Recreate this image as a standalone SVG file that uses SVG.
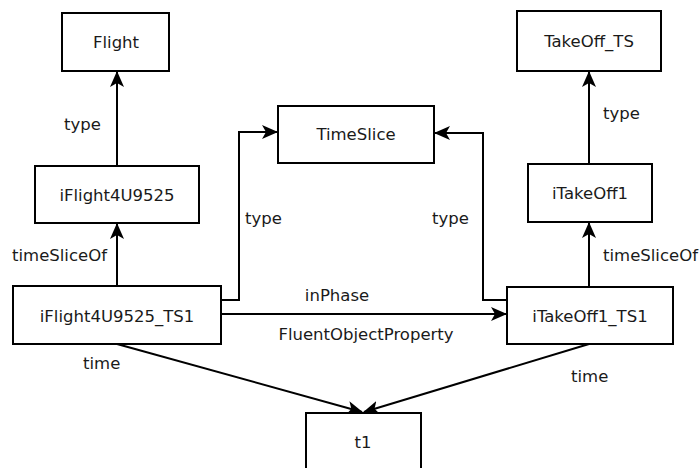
<svg xmlns="http://www.w3.org/2000/svg" width="700" height="468" viewBox="0 0 700 468">
<style>
.box{fill:#fff;stroke:#000;stroke-width:2}
.t{font-family:"DejaVu Sans",sans-serif;font-size:16.5px;fill:#1a1a1a}
.c{text-anchor:middle}
.e{fill:none;stroke:#000;stroke-width:2}
</style>
<defs>
<marker id="a" viewBox="0 0 16 16" refX="15" refY="8" markerWidth="16" markerHeight="16" markerUnits="userSpaceOnUse" orient="auto">
<path d="M0,1 L16,8 L0,15 L4,8 Z" fill="#000"/>
</marker>
</defs>
<rect width="700" height="468" fill="#fff"/>
<g id="connectors">
<path class="e" d="M117,286 V224" marker-end="url(#a)"/>
<path class="e" d="M117,166 V72" marker-end="url(#a)"/>
<path class="e" d="M589,287 V223" marker-end="url(#a)"/>
<path class="e" d="M589,164 V72" marker-end="url(#a)"/>
<path class="e" d="M221,300 H239 V132 H277" marker-end="url(#a)"/>
<path class="e" d="M507,300 H483 V133 H435" marker-end="url(#a)"/>
<path class="e" d="M221,314 H506" marker-end="url(#a)"/>
<path class="e" d="M117,344 L362,412" marker-end="url(#a)"/>
<path class="e" d="M589,344 L364,412" marker-end="url(#a)"/>
<text class="t" x="64" y="130">type</text>
<text class="t" x="12" y="261">timeSliceOf</text>
<text class="t" x="245" y="224">type</text>
<text class="t" x="432" y="224">type</text>
<text class="t" x="603" y="119">type</text>
<text class="t" x="603" y="261">timeSliceOf</text>
<text class="t c" x="337" y="301">inPhase</text>
<text class="t c" x="366" y="340">FluentObjectProperty</text>
<text class="t" x="83" y="369">time</text>
<text class="t" x="571" y="382">time</text>
</g>
<g id="Flight"><rect class="box" x="62" y="13" width="107" height="58"/><text class="t c" x="116" y="48">Flight</text></g>
<g id="TimeSlice"><rect class="box" x="278" y="106" width="156" height="57"/><text class="t c" x="356" y="140">TimeSlice</text></g>
<g id="TakeOff_TS"><rect class="box" x="517" y="11" width="144" height="60"/><text class="t c" x="589" y="47">TakeOff_TS</text></g>
<g id="iFlight4U9525"><rect class="box" x="35" y="166" width="164" height="57"/><text class="t c" x="117" y="201">iFlight4U9525</text></g>
<g id="iTakeOff1"><rect class="box" x="528" y="164" width="124" height="58"/><text class="t c" x="590" y="199">iTakeOff1</text></g>
<g id="iFlight4U9525_TS1"><rect class="box" x="13" y="286" width="208" height="58"/><text class="t c" x="117" y="322">iFlight4U9525_TS1</text></g>
<g id="iTakeOff1_TS1"><rect class="box" x="507" y="287" width="166" height="57"/><text class="t c" x="590" y="322">iTakeOff1_TS1</text></g>
<g id="t1"><rect class="box" x="306" y="413" width="115" height="60"/><text class="t c" x="363" y="448">t1</text></g>
</svg>
